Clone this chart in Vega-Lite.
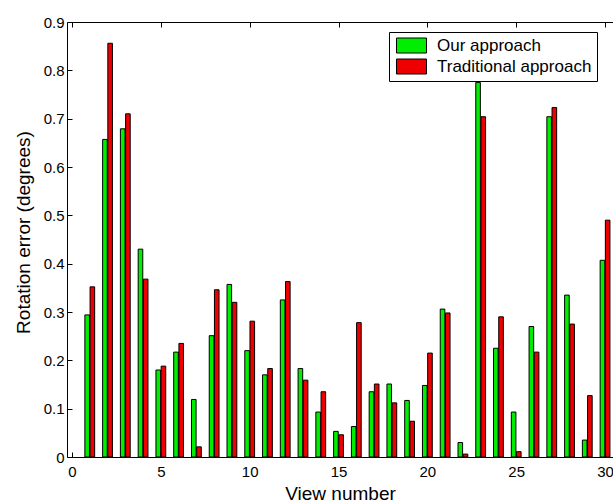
{
  "$schema": "https://vega.github.io/schema/vega-lite/v6.json",
  "width": 546,
  "height": 435,
  "autosize": {"type": "none"},
  "padding": {"left": 67, "top": 22, "right": 0, "bottom": 46},
  "background": "white",
  "config": {
    "font": "Liberation Sans",
    "view": {"stroke": null},
    "legend": {"strokeWidth": 1},
    "axis": {
      "domainColor": "black",
      "domainWidth": 1,
      "tickColor": "black",
      "tickWidth": 1,
      "grid": false,
      "labelColor": "black",
      "titleColor": "black",
      "labelFont": "Liberation Sans",
      "titleFont": "Liberation Sans",
      "titleFontWeight": "normal"
    }
  },
  "data": {
    "values": [
      {"view": 1, "ours": 0.294, "trad": 0.352},
      {"view": 2, "ours": 0.657, "trad": 0.856},
      {"view": 3, "ours": 0.679, "trad": 0.710},
      {"view": 4, "ours": 0.430, "trad": 0.368},
      {"view": 5, "ours": 0.180, "trad": 0.188},
      {"view": 6, "ours": 0.217, "trad": 0.235},
      {"view": 7, "ours": 0.119, "trad": 0.021},
      {"view": 8, "ours": 0.251, "trad": 0.346},
      {"view": 9, "ours": 0.357, "trad": 0.320},
      {"view": 10, "ours": 0.220, "trad": 0.281},
      {"view": 11, "ours": 0.170, "trad": 0.183},
      {"view": 12, "ours": 0.325, "trad": 0.363},
      {"view": 13, "ours": 0.183, "trad": 0.159},
      {"view": 14, "ours": 0.093, "trad": 0.135},
      {"view": 15, "ours": 0.053, "trad": 0.046},
      {"view": 16, "ours": 0.063, "trad": 0.278},
      {"view": 17, "ours": 0.135, "trad": 0.151},
      {"view": 18, "ours": 0.151, "trad": 0.112},
      {"view": 19, "ours": 0.117, "trad": 0.074},
      {"view": 20, "ours": 0.148, "trad": 0.215},
      {"view": 21, "ours": 0.306, "trad": 0.298},
      {"view": 22, "ours": 0.030, "trad": 0.006},
      {"view": 23, "ours": 0.775, "trad": 0.704},
      {"view": 24, "ours": 0.225, "trad": 0.290},
      {"view": 25, "ours": 0.093, "trad": 0.011},
      {"view": 26, "ours": 0.270, "trad": 0.217},
      {"view": 27, "ours": 0.704, "trad": 0.723},
      {"view": 28, "ours": 0.335, "trad": 0.275},
      {"view": 29, "ours": 0.035, "trad": 0.127},
      {"view": 30, "ours": 0.407, "trad": 0.490}
    ]
  },
  "layer": [
    {
      "mark": {"type": "bar", "width": 4.6, "xOffset": -2.6, "stroke": "black", "strokeWidth": 1, "clip": true},
      "encoding": {
        "x": {
          "field": "view", "type": "quantitative",
          "scale": {"domain": [0, 30.166], "nice": false, "zero": false},
          "axis": {
            "orient": "bottom",
            "values": [0, 5, 10, 15, 20, 25, 30],
            "tickSize": -5,
            "labelPadding": 12,
            "labelFontSize": 15,
            "title": "View number",
            "titleFontSize": 19,
            "titleY": 36,
            "titleBaseline": "middle"
          }
        },
        "y": {
          "field": "ours", "type": "quantitative",
          "scale": {"domain": [0, 0.9], "nice": false},
          "axis": {
            "values": [0, 0.1, 0.2, 0.3, 0.4, 0.5, 0.6, 0.7, 0.8, 0.9],
            "format": ".1~f",
            "tickSize": -5,
            "labelPadding": 8,
            "labelFontSize": 15,
            "title": "Rotation error (degrees)",
            "titleFontSize": 19,
            "titleX": -44,
            "titleY": 210,
            "titleBaseline": "middle"
          }
        },
        "color": {
          "datum": "Our approach",
          "type": "nominal",
          "scale": {"domain": ["Our approach", "Traditional approach"], "range": ["#00ee00", "#ee0000"]},
          "legend": {
            "title": null,
            "orient": "none",
            "legendX": 322,
            "legendY": 10,
            "direction": "vertical",
            "fillColor": "white",
            "strokeColor": "black",
            "padding": 5,
            "cornerRadius": 0,
            "symbolType": "M-2,-1H2V1H-2Z",
            "symbolSize": 225,
            "symbolOffset": 9,
            "symbolStrokeColor": "black",
            "symbolStrokeWidth": 1,
            "symbolOpacity": 1,
            "labelFontSize": 17,
            "labelFont": "Liberation Sans",
            "labelColor": "black",
            "labelOffset": 17,
            "rowPadding": 2,
            "labelLimit": 300
          }
        }
      }
    },
    {
      "mark": {"type": "bar", "width": 4.6, "xOffset": 2.6, "stroke": "black", "strokeWidth": 1, "clip": true},
      "encoding": {
        "x": {
          "field": "view", "type": "quantitative",
          "scale": {"domain": [0, 30.166], "nice": false, "zero": false},
          "axis": {
            "orient": "top",
            "values": [0, 5, 10, 15, 20, 25, 30],
            "tickSize": -5,
            "labels": false,
            "title": null
          }
        },
        "y": {"field": "trad", "type": "quantitative"},
        "color": {"datum": "Traditional approach", "type": "nominal"}
      }
    }
  ],
  "resolve": {"axis": {"x": "independent"}}
}
